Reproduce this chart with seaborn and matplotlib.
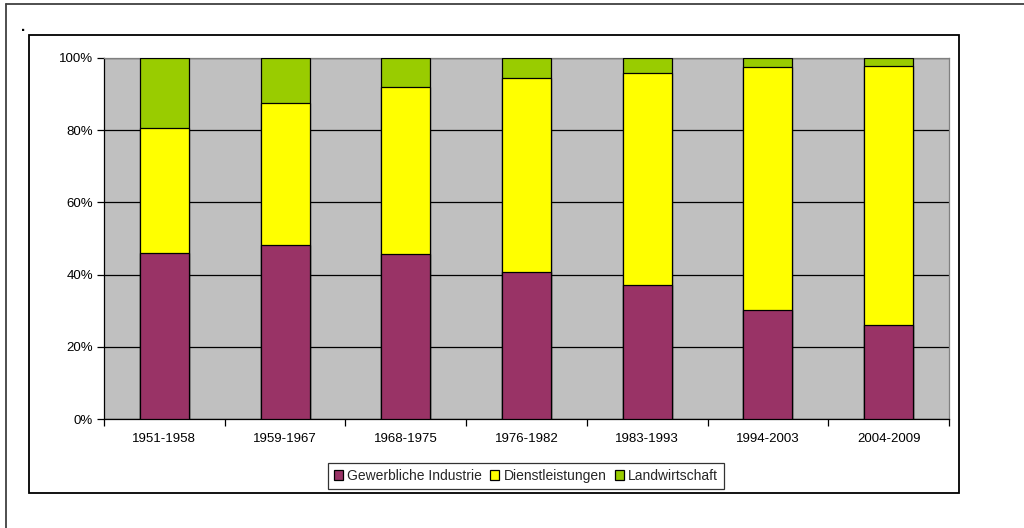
import matplotlib
matplotlib.use("Agg")
import matplotlib.pyplot as plt
from matplotlib.patches import Rectangle, Patch
from matplotlib.lines import Line2D
import seaborn as sns
import pandas as pd
import numpy as np

categories = ["1951-1958", "1959-1967", "1968-1975", "1976-1982", "1983-1993", "1994-2003", "2004-2009"]
gewerbe = [46.0, 48.2, 45.7, 40.8, 37.2, 30.2, 26.0]
dienst = [34.7, 39.2, 46.3, 53.7, 58.7, 67.2, 71.7]
landw = [19.3, 12.6, 8.0, 5.5, 4.1, 2.6, 2.3]
series_names = ["Gewerbliche Industrie", "Dienstleistungen", "Landwirtschaft"]
colors = ["#993366", "#FFFF00", "#99CC00"]
ytick_labels = ["0%", "20%", "40%", "60%", "80%", "100%"]

sns.set_theme(style="white")
plt.rcParams["font.family"] = ["Liberation Sans", "DejaVu Sans"]

W, H = 1024, 528
fig = plt.figure(figsize=(W / 100, H / 100), dpi=100)
fig.patch.set_facecolor("white")

ax = fig.add_axes([104 / W, 1 - 419 / H, (949 - 104) / W, (419 - 58) / H])
ax.set_facecolor("#C0C0C0")

df = pd.DataFrame({"cat": categories, "g": gewerbe, "d": dienst, "l": landw})
df["gd"] = df["g"] + df["d"]
df["gdl"] = df["gd"] + df["l"]

for col, c in [("gdl", colors[2]), ("gd", colors[1]), ("g", colors[0])]:
    sns.barplot(data=df, x="cat", y=col, color=c, saturation=1, width=0.407,
                edgecolor="black", linewidth=0.9, ax=ax, zorder=3)

ax.set_xlim(-0.5, len(categories) - 0.5)
ax.set_ylim(0, 100)
ax.set_xlabel("")
ax.set_ylabel("")

ax.set_yticks(np.arange(0, 101, 20))
ax.set_yticklabels(ytick_labels)
ax.yaxis.grid(True, color="black", linewidth=0.9, zorder=1)
ax.set_axisbelow(True)

ax.set_xticks(np.arange(-0.5, len(categories), 1.0))
ax.set_xticklabels([])
ax.set_xticks(np.arange(len(categories)), minor=True)
ax.set_xticklabels(categories, minor=True)
ax.tick_params(axis="x", which="major", direction="out", length=5, width=0.9, color="black", bottom=True)
ax.tick_params(axis="x", which="minor", length=0, pad=10, labelsize=9.5, colors="black", bottom=True)
ax.tick_params(axis="y", direction="out", length=5, width=0.9, color="black", pad=3, labelsize=9.5, left=True, colors="black")

for s in ["left", "bottom"]:
    ax.spines[s].set_color("black")
    ax.spines[s].set_linewidth(0.9)
for s in ["top", "right"]:
    ax.spines[s].set_color("#808080")
    ax.spines[s].set_linewidth(0.9)

# inner chart border
fig.add_artist(Rectangle((29 / W, 1 - 493 / H), (959 - 29) / W, (493 - 35) / H,
                         transform=fig.transFigure, fill=False, edgecolor="black", linewidth=1.3))
# outer partial border
fig.add_artist(Line2D([6 / W, 1], [1 - 4 / H, 1 - 4 / H], transform=fig.transFigure, color="#404040", linewidth=1.3))
fig.add_artist(Line2D([6 / W, 6 / W], [0, 1 - 4 / H], transform=fig.transFigure, color="#404040", linewidth=1.3))

fig.text(23 / W, 1 - 31 / H, ".", fontsize=11, fontweight="bold", ha="center", va="baseline", color="black")

handles = [Patch(facecolor=c, edgecolor="black", linewidth=0.9) for c in colors]
leg = fig.legend(handles, series_names, loc="center", bbox_to_anchor=(526 / W, 1 - 476 / H), ncol=3,
                 frameon=True, fancybox=False, edgecolor="black", fontsize=10,
                 handlelength=0.65, handleheight=0.65, handletextpad=0.3, columnspacing=0.6,
                 borderpad=0.45, borderaxespad=0)
leg.get_frame().set_linewidth(0.9)

fig.savefig("out.png", dpi=100)
